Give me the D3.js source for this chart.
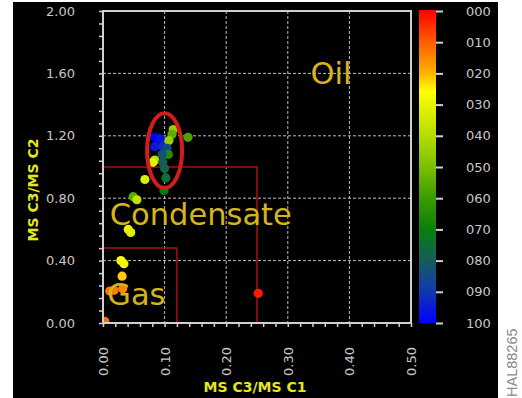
<!DOCTYPE html>
<html>
<head>
<meta charset="utf-8">
<script src="https://cdn.jsdelivr.net/npm/d3@7"></script>
<style>
  html, body { margin: 0; padding: 0; background: #ffffff; }
  svg { display: block; }
</style>
</head>
<body>
<svg id="chart" width="522" height="398"></svg>
<script>
// Ratio values for each sample: C3/C1 (x), C3/C2 (y) and the colour-coded value (0-100)
const ratioC3C1 = [0.084, 0.089, 0.094, 0.084, 0.097, 0.114, 0.112, 0.107, 0.138, 0.104,
                   0.106, 0.096, 0.084, 0.081, 0.097, 0.100, 0.102, 0.068, 0.099, 0.049,
                   0.055, 0.041, 0.045, 0.029, 0.034, 0.031, 0.032, 0.011, 0.018, 0.252, 0.003];
const ratioC3C2 = [1.19, 1.15, 1.18, 1.13, 1.13, 1.24, 1.21, 1.17, 1.19, 1.12,
                   1.08, 1.08, 1.045, 1.03, 1.03, 0.99, 0.93, 0.92, 0.85, 0.81,
                   0.79, 0.60, 0.58, 0.40, 0.38, 0.30, 0.22, 0.205, 0.21, 0.19, 0.01];
const colorValue = [100, 98, 96, 95, 92, 45, 55, 45, 58, 86,
                    65, 82, 40, 32, 80, 78, 75, 33, 70, 55,
                    38, 30, 32, 27, 28, 22, 15, 13, 14, 3, 12];

// Axis ticks and labels
const xLabelTicks = [0, 0.1, 0.2, 0.3, 0.4, 0.5];
const yLabelTicks = [0, 0.4, 0.8, 1.2, 1.6, 2.0];
const colorTicks = [0, 10, 20, 30, 40, 50, 60, 70, 80, 90, 100];

// Colour ramp stops
const rampValues = [0, 10, 20, 26, 40, 50, 60, 70, 80, 90, 100];
const rampColors = ["#ff0000", "#ff5a00", "#ffb000", "#ffff00", "#b8dc00", "#7cc000",
                    "#3c9c00", "#0a800a", "#145c5c", "#1038b0", "#0000ff"];

// Zone boundaries (upper-right corner of each box) and labels
const zoneCorners = [{x: 0.12, y: 0.48}, {x: 0.25, y: 1.0}];
const zoneNames = ["Oil", "Condensate", "Gas"];
const zoneAnchors = [{x: 0.337, y: 1.53}, {x: 0.011, y: 0.63}, {x: 0.007, y: 0.115}];

// Highlighted cluster ellipse (centre and radii in data units)
const clusterEllipse = {cx: 0.10, cy: 1.105, rx: 0.0284, ry: 0.24};

const svg = d3.select("#chart");

const x = d3.scaleLinear().domain([0, 0.5]).range([103, 411]);
const y = d3.scaleLinear().domain([0, 2]).range([323, 11]);
const color = d3.scaleLinear().domain(rampValues).range(rampColors);
const cbar = d3.scaleLinear().domain([0, 100]).range([11, 323]);

const defs = svg.append("defs");
defs.append("clipPath").attr("id", "plot-area").append("rect")
  .attr("x", x(0)).attr("y", y(2)).attr("width", x(0.5) - x(0)).attr("height", y(0) - y(2));

// black panel
svg.append("rect").attr("x", 13).attr("y", 2).attr("width", 485).attr("height", 396)
  .attr("fill", "#000000");

// dashed grid
const grid = svg.append("g");
grid.selectAll("line.gx").data(xLabelTicks.slice(1, -1)).join("line")
  .attr("x1", d => x(d)).attr("x2", d => x(d)).attr("y1", y(2)).attr("y2", y(0))
  .attr("stroke", "#bdbdbd").attr("stroke-width", 1).attr("stroke-dasharray", "3,2");
grid.selectAll("line.gy").data(yLabelTicks.slice(1, -1)).join("line")
  .attr("y1", d => y(d)).attr("y2", d => y(d)).attr("x1", x(0)).attr("x2", x(0.5))
  .attr("stroke", "#bdbdbd").attr("stroke-width", 1).attr("stroke-dasharray", "3,2");

// zone boxes
const zones = svg.append("g");
zoneCorners.forEach(c => {
  zones.append("path")
    .attr("d", `M${x(0)},${y(c.y)}H${x(c.x)}V${y(0)}`)
    .attr("fill", "none").attr("stroke", "#a81010").attr("stroke-width", 1.5);
});

// sample points, clipped to the plot area
const pts = ratioC3C1.map((v, i) => ({x: v, y: ratioC3C2[i], c: colorValue[i]}));
svg.append("g").attr("clip-path", "url(#plot-area)")
  .selectAll("circle").data(pts).join("circle")
  .attr("cx", d => x(d.x)).attr("cy", d => y(d.y)).attr("r", 4.6)
  .attr("fill", d => color(d.c));

// cluster ellipse
svg.append("ellipse")
  .attr("cx", x(clusterEllipse.cx)).attr("cy", y(clusterEllipse.cy))
  .attr("rx", x(clusterEllipse.rx) - x(0)).attr("ry", y(0) - y(clusterEllipse.ry))
  .attr("fill", "none").attr("stroke", "#d41c1c").attr("stroke-width", 4);

// zone names
svg.append("g").selectAll("text").data(zoneNames).join("text")
  .attr("x", (d, i) => x(zoneAnchors[i].x)).attr("y", (d, i) => y(zoneAnchors[i].y))
  .attr("font-family", "DejaVu Sans, Verdana, sans-serif").attr("font-size", 30.5)
  .attr("fill", "#d6b41c").text(d => d);

// axes
const tickColor = "#d0d0d0";
const labelColor = "#c8c8c8";
const fmt2 = d3.format(".2f");
const isLabel = (arr, d) => arr.some(t => Math.abs(t - d) < 1e-6);

const yAxis = svg.append("g").attr("transform", `translate(${x(0)},0)`)
  .call(d3.axisLeft(y).tickValues(d3.range(0, 2.0001, 0.08)).tickSize(4).tickPadding(24)
    .tickFormat(d => isLabel(yLabelTicks, d) ? fmt2(d) : ""));
const xAxis = svg.append("g").attr("transform", `translate(0,${y(0)})`)
  .call(d3.axisBottom(x).tickValues(d3.range(0, 0.5001, 0.02)).tickSize(4)
    .tickFormat(d => isLabel(xLabelTicks, d) ? fmt2(d) : ""));
xAxis.selectAll("text").attr("transform", "rotate(-90)").attr("text-anchor", "end")
  .attr("x", -24).attr("y", 0).attr("dy", "0.35em");

[xAxis, yAxis].forEach(g => {
  g.select(".domain").remove();
  g.selectAll(".tick line").attr("stroke", tickColor).attr("stroke-width", 1.5);
  g.selectAll("text").attr("fill", labelColor).attr("font-size", 13)
    .attr("font-family", "DejaVu Sans, Verdana, sans-serif");
});

// plot frame
svg.append("rect").attr("x", x(0)).attr("y", y(2))
  .attr("width", x(0.5) - x(0)).attr("height", y(0) - y(2))
  .attr("fill", "none").attr("stroke", tickColor).attr("stroke-width", 2);

// axis titles
svg.append("text").attr("x", 255).attr("y", 392).attr("text-anchor", "middle")
  .attr("font-family", "DejaVu Sans, Verdana, sans-serif").attr("font-size", 14)
  .attr("font-weight", "bold").attr("fill", "#e6e619").text("MS C3/MS C1");
svg.append("text").attr("transform", "translate(38,190) rotate(-90)").attr("text-anchor", "middle")
  .attr("font-family", "DejaVu Sans, Verdana, sans-serif").attr("font-size", 14)
  .attr("font-weight", "bold").attr("fill", "#e6e619").text("MS C3/MS C2");

// colour bar
const grad = defs.append("linearGradient").attr("id", "ramp")
  .attr("x1", 0).attr("y1", 0).attr("x2", 0).attr("y2", 1);
grad.selectAll("stop").data(rampValues).join("stop")
  .attr("offset", d => d / 100).attr("stop-color", (d, i) => rampColors[i]);
svg.append("rect").attr("x", 419).attr("y", 10).attr("width", 17).attr("height", 313)
  .attr("fill", "url(#ramp)");
const cAxis = svg.append("g").attr("transform", "translate(436,0)")
  .call(d3.axisRight(cbar).tickValues(colorTicks).tickSize(7).tickPadding(23)
    .tickFormat(d3.format("03d")));
cAxis.select(".domain").remove();
cAxis.selectAll(".tick line").attr("stroke", tickColor).attr("stroke-width", 2);
cAxis.selectAll("text").attr("fill", labelColor).attr("font-size", 13)
  .attr("font-family", "DejaVu Sans, Verdana, sans-serif");

// figure id
svg.append("text").attr("transform", "translate(517,397) rotate(-90)")
  .attr("font-family", "Liberation Sans, Arial, sans-serif").attr("font-size", 14.5)
  .attr("fill", "#8a8a8a").text("HAL88265");
</script>
</body>
</html>
